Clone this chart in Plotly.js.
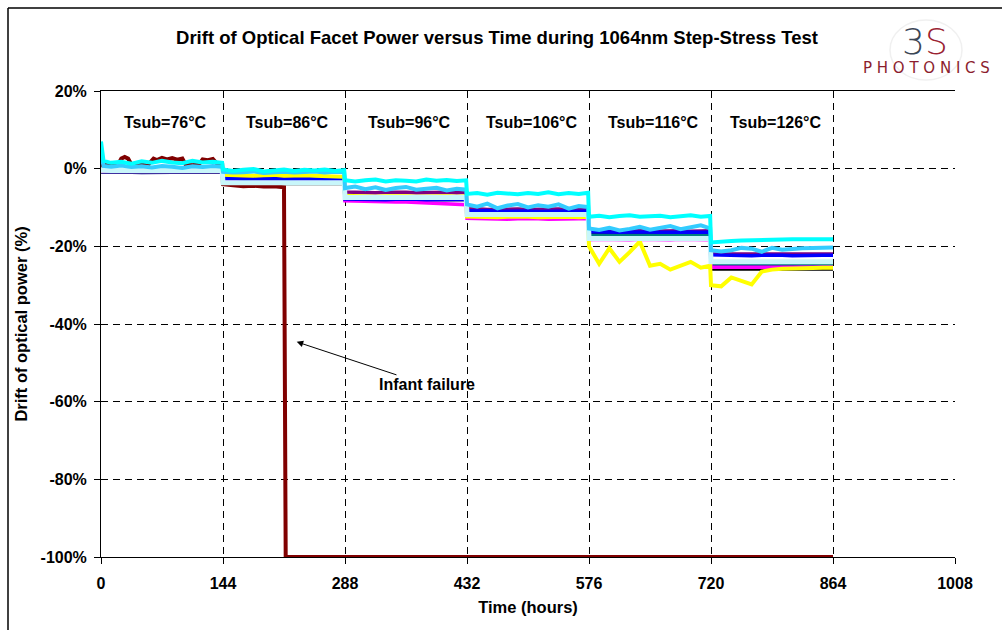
<!DOCTYPE html>
<html>
<head>
<meta charset="utf-8">
<script src="https://cdn.plot.ly/plotly-3.0.1.min.js"></script>
<style>
  html, body { margin: 0; padding: 0; background: #fff; }
  #chart { width: 1002px; height: 630px; }
</style>
</head>
<body>
<div id="chart"></div>
<script>
// ---- data (hours, % drift) ----
const hours = [0,3,12,24,36,48,60,72,84,96,108,120,132,143,
  144,156,168,180,192,204,216,228,240,252,264,276,287,
  288,300,312,324,336,348,360,372,384,396,408,420,431,
  432,444,456,468,480,492,504,516,528,540,552,564,575,
  576,588,600,612,624,636,648,660,672,684,696,708,719,
  720,732,744,756,768,780,792,804,816,828,840,852,864];

const cyan = [7.0,2.0,1.5,1.8,1.3,1.9,1.5,2.0,1.6,1.4,2.0,1.6,1.8,1.5,
  -0.2,-0.6,-0.3,-0.1,-0.7,-0.4,-0.2,-0.6,-0.3,-0.5,-0.2,-0.6,-0.4,
  -3.0,-3.3,-3.0,-2.8,-3.3,-3.0,-3.1,-3.3,-2.8,-3.1,-2.9,-3.2,-3.0,
  -6.5,-6.3,-6.7,-6.2,-6.5,-6.6,-6.3,-6.5,-6.1,-6.6,-6.3,-6.5,-6.2,
  -12.4,-12.1,-12.5,-12.2,-12.0,-12.4,-12.2,-12.1,-12.5,-12.2,-12.0,-12.4,-12.2,
  -19.0,-18.7,-18.6,-18.5,-18.4,-18.4,-18.3,-18.3,-18.2,-18.2,-18.3,-18.2,-18.2];

const lightBlue = [4.0,0.7,0.5,0.8,0.4,0.6,0.3,0.7,0.5,0.2,0.6,0.4,0.7,0.5,
  -0.8,-1.0,-0.9,-0.7,-1.1,-0.9,-0.8,-1.0,-0.9,-0.7,-1.0,-0.8,-0.9,
  -5.0,-4.6,-5.3,-4.8,-5.5,-5.0,-4.7,-5.4,-5.1,-4.9,-5.6,-5.2,-5.4,
  -9.2,-9.8,-9.0,-10.2,-9.5,-9.1,-10.0,-9.4,-9.8,-9.2,-10.3,-9.6,-9.9,
  -15.4,-15.8,-15.2,-15.9,-15.5,-15.0,-15.7,-15.3,-14.8,-15.6,-15.2,-14.6,-15.4,
  -21.0,-21.3,-21.0,-20.4,-20.6,-21.4,-20.4,-20.9,-20.6,-20.5,-20.4,-20.4,-20.3];

const blue = [-0.4,-0.5,-0.6,-0.5,-0.4,-0.6,-0.5,-0.5,-0.4,-0.6,-0.5,-0.5,-0.6,-0.5,
  -2.6,-2.5,-2.7,-2.6,-2.5,-2.6,-2.7,-2.6,-2.5,-2.6,-2.7,-2.6,-2.6,
  -7.8,-7.9,-7.8,-7.9,-8.0,-7.9,-7.8,-7.9,-8.0,-7.9,-7.8,-7.9,-7.9,
  -10.8,-10.9,-10.8,-11.0,-10.9,-10.8,-10.9,-11.0,-10.9,-10.8,-10.9,-11.0,-10.9,
  -16.2,-16.3,-16.2,-16.4,-16.3,-16.2,-16.3,-16.4,-16.3,-16.2,-16.3,-16.4,-16.3,
  -22.2,-22.3,-22.2,-22.3,-22.4,-22.3,-22.2,-22.3,-22.4,-22.3,-22.2,-22.3,-22.3];

const navy = [-0.8,-0.9,-0.9,-0.8,-0.9,-1.0,-0.9,-0.8,-0.9,-0.9,-1.0,-0.9,-0.8,-0.9,
  -2.9,-2.9,-3.0,-2.9,-2.8,-2.9,-3.0,-2.9,-2.9,-2.8,-2.9,-3.0,-2.9,
  -8.0,-8.0,-8.1,-8.0,-8.0,-8.1,-8.0,-8.0,-8.1,-8.0,-8.0,-8.1,-8.0,
  -10.6,-10.5,-10.6,-10.7,-10.6,-10.5,-10.6,-10.7,-10.6,-10.5,-10.6,-10.7,-10.6,
  -16.6,-16.5,-16.6,-16.7,-16.6,-16.5,-16.6,-16.7,-16.6,-16.5,-16.6,-16.7,-16.6,
  -25.0,-25.1,-25.0,-25.1,-25.0,-25.1,-25.2,-25.2,-25.3,-25.3,-25.3,-25.4,-25.4];

const purple = [-0.3,-0.3,-0.2,-0.3,-0.4,-0.3,-0.2,-0.3,-0.3,-0.4,-0.3,-0.2,-0.3,-0.3,
  -2.2,-2.1,-2.3,-2.2,-2.1,-2.2,-2.3,-2.2,-2.2,-2.1,-2.3,-2.2,-2.2,
  -6.0,-6.1,-6.0,-6.2,-6.1,-6.0,-6.1,-6.2,-6.1,-6.0,-6.1,-6.2,-6.1,
  -10.4,-10.3,-10.5,-10.4,-10.3,-10.4,-10.5,-10.4,-10.3,-10.4,-10.5,-10.4,-10.4,
  -16.0,-15.9,-16.1,-16.0,-15.9,-16.0,-16.1,-16.0,-15.9,-16.0,-16.1,-16.0,-16.0,
  -22.0,-22.0,-21.9,-22.0,-22.1,-22.0,-21.9,-22.0,-22.1,-22.0,-22.0,-22.1,-22.0];

const magenta = [-0.7,-0.7,-0.6,-0.7,-0.8,-0.7,-0.6,-0.7,-0.7,-0.8,-0.7,-0.6,-0.7,-0.7,
  -3.0,-3.0,-3.1,-3.0,-2.9,-3.0,-3.1,-3.0,-3.0,-2.9,-3.0,-3.1,-3.0,
  -8.3,-8.4,-8.4,-8.5,-8.5,-8.6,-8.6,-8.7,-8.8,-8.9,-9.0,-9.2,-9.3,
  -12.8,-12.9,-12.8,-12.9,-13.0,-12.9,-12.8,-12.9,-13.0,-12.9,-12.8,-12.9,-12.9,
  -18.3,-18.2,-18.3,-18.4,-18.3,-18.2,-18.3,-18.4,-18.3,-18.2,-18.3,-18.4,-18.3,
  -25.4,-25.4,-25.5,-25.4,-25.5,-25.4,-25.5,-25.4,-25.5,-25.4,-25.5,-25.4,-25.4];

const yellow = [-0.4,-0.4,-0.5,-0.4,-0.5,-0.4,-0.5,-0.4,-0.3,0.0,0.1,-0.2,-0.4,-0.4,
  -1.6,-1.7,-1.6,-1.8,-1.7,-1.6,-1.8,-1.7,-1.7,-1.8,-1.9,-2.0,-2.1,
  -7.0,-7.1,-7.0,-7.2,-7.1,-7.0,-7.1,-7.2,-7.1,-7.0,-7.1,-7.2,-7.1,
  -12.3,-12.4,-12.3,-12.5,-12.4,-12.3,-12.4,-12.5,-12.4,-12.3,-12.4,-12.5,-12.4,
  -20.0,-24.5,-20.5,-24.0,-21.5,-18.8,-25.0,-24.5,-26.0,-25.0,-24.0,-25.5,-25.0,
  -30.0,-30.3,-28.0,-28.8,-29.8,-26.5,-26.0,-25.8,-25.8,-25.7,-25.6,-25.5,-25.5];

const teal = [-0.8,-0.8,-0.7,-0.8,-0.9,-0.8,-0.7,-0.8,-0.8,-0.9,-0.8,-0.7,-0.8,-0.8,
  -3.4,-3.4,-3.5,-3.4,-3.3,-3.4,-3.5,-3.4,-3.4,-3.3,-3.4,-3.5,-3.4,
  -7.6,-7.6,-7.7,-7.6,-7.5,-7.6,-7.7,-7.6,-7.6,-7.5,-7.6,-7.7,-7.6,
  -11.3,-11.3,-11.4,-11.3,-11.2,-11.3,-11.4,-11.3,-11.3,-11.2,-11.3,-11.4,-11.3,
  -17.2,-17.2,-17.3,-17.2,-17.1,-17.2,-17.3,-17.2,-17.2,-17.1,-17.2,-17.3,-17.2,
  -24.5,-24.5,-24.6,-24.5,-24.4,-24.5,-24.6,-24.5,-24.5,-24.4,-24.5,-24.6,-24.5];

const paleCyan = [-0.4,-0.5,-0.5,-0.4,-0.5,-0.6,-0.5,-0.4,-0.5,-0.5,-0.6,-0.5,-0.4,-0.5,
  -3.6,-3.6,-3.7,-3.6,-3.5,-3.6,-3.7,-3.6,-3.6,-3.5,-3.6,-3.7,-3.6,
  -7.4,-7.4,-7.5,-7.4,-7.3,-7.4,-7.5,-7.4,-7.4,-7.3,-7.4,-7.5,-7.4,
  -11.8,-11.8,-11.9,-11.8,-11.7,-11.8,-11.9,-11.8,-11.8,-11.7,-11.8,-11.9,-11.8,
  -18.0,-18.0,-18.1,-18.0,-17.9,-18.0,-18.1,-18.0,-18.0,-17.9,-18.0,-18.1,-18.0,
  -24.0,-24.0,-24.1,-24.0,-23.9,-24.0,-24.1,-24.0,-24.0,-23.9,-24.0,-24.1,-24.0];

const black = [-0.9,-0.9,-1.0,-0.9,-0.9,-1.0,-0.9,-0.9,-1.0,-0.9,-0.9,-1.0,-0.9,-0.9,
  -3.9,-3.9,-4.0,-3.9,-3.9,-4.0,-3.9,-3.9,-4.0,-3.9,-3.9,-4.0,-3.9,
  -7.9,-7.9,-8.0,-7.9,-7.9,-8.0,-7.9,-7.9,-8.0,-7.9,-7.9,-8.0,-7.9,
  -12.0,-12.0,-12.1,-12.0,-12.0,-12.1,-12.0,-12.0,-12.1,-12.0,-12.0,-12.1,-12.0,
  -17.6,-17.6,-17.7,-17.6,-17.6,-17.7,-17.6,-17.6,-17.7,-17.6,-17.6,-17.7,-17.6,
  -25.9,-25.9,-26.0,-25.9,-25.9,-26.0,-25.9,-25.9,-26.0,-25.9,-25.9,-26.0,-25.9];

// infant-failure device
const redHours = [0,6,12,20,24,28,32,36,44,56,62,66,72,78,84,90,96,100,108,116,120,126,132,138,143,144,156,168,180,192,204,212,216,218,864];
const redDrift = [0.8,1.0,0.9,1.0,2.6,3.0,2.6,1.0,1.0,1.1,2.6,2.2,2.8,2.4,2.7,2.3,2.6,1.0,0.9,1.2,2.4,2.2,2.5,1.0,1.0,-4.0,-4.3,-4.5,-4.4,-4.6,-4.5,-4.6,-4.8,-100,-100];

const stageCentres = [76, 220, 364, 508, 652, 796];
const stageLabels = ['Tsub=76°C','Tsub=86°C','Tsub=96°C','Tsub=106°C','Tsub=116°C','Tsub=126°C'];
const xTicks = [0,144,288,432,576,720,864,1008];
const yTicks = [-100,-80,-60,-40,-20,0,20];
const yTickText = ['-100%','-80%','-60%','-40%','-20%','0%','20%'];

// ---- traces ----
const FONT = 'Arial, "Liberation Sans", sans-serif';
function line(x, y, color, width) {
  return { x: x, y: y, type: 'scatter', mode: 'lines', hoverinfo: 'skip',
           line: { color: color, width: width }, showlegend: false };
}
const traces = [
  line(hours, black, '#000000', 3),
  line(hours, navy, '#000080', 3.5),
  line(hours, teal, '#008080', 3.5),
  line(hours, magenta, '#FF00FF', 3.5),
  line(hours, purple, '#800080', 3.5),
  line(hours, blue, '#0000FF', 3.5),
  line(hours, yellow, '#FFFF00', 4),
  line(redHours, redDrift, '#800000', 4),
  line(hours, paleCyan, '#C8F6FA', 5),
  line(hours, lightBlue, '#33CCFF', 4),
  line(hours, cyan, '#00FFFF', 4)
];

const annotations = stageLabels.map((t, i) => ({
  x: stageCentres[i], y: 12, xref: 'x', yref: 'y', text: t, showarrow: false,
  xanchor: 'center', yanchor: 'middle',
  font: { family: FONT, size: 16, color: '#000', weight: 'bold' }
}));
annotations.push({
  x: 231, y: -44.6, xref: 'x', yref: 'y', text: 'Infant failure',
  showarrow: true, ax: 130, ay: 43, arrowhead: 2, arrowsize: 1.3, arrowwidth: 1,
  arrowcolor: '#000', standoff: 0, xanchor: 'center', yanchor: 'middle',
  font: { family: FONT, size: 16, color: '#000', weight: 'bold' }
});
// logo
annotations.push({
  x: (925 - 101) / 854, y: (557 - 41) / 466, xref: 'paper', yref: 'paper',
  xanchor: 'center', yanchor: 'middle',
  text: '<span style="color:#3b4656">3</span><span style="color:#9a2332">S</span>',
  showarrow: false, font: { family: '"DejaVu Sans", sans-serif', size: 36, weight: 300 }
});
annotations.push({
  x: (926 - 101) / 854, y: (557 - 68) / 466, xref: 'paper', yref: 'paper',
  xanchor: 'center', yanchor: 'middle',
  text: 'P H O T O N I C S',
  showarrow: false, font: { family: '"DejaVu Sans", sans-serif', size: 15, color: '#8c1d2e' }
});

const px = v => (v - 101) / 854;
const py = v => (557 - v) / 466;

const layout = {
  width: 1002, height: 630,
  margin: { l: 101, r: 47, t: 91, b: 73 },
  paper_bgcolor: '#fff', plot_bgcolor: '#fff',
  showlegend: false,
  title: {
    text: 'Drift of Optical Facet Power versus Time during 1064nm Step-Stress Test',
    x: px(497), xref: 'paper', xanchor: 'center',
    y: 1 - 38 / 630, yref: 'container', yanchor: 'middle',
    font: { family: FONT, size: 18.5, color: '#000', weight: 'bold' }
  },
  xaxis: {
    range: [0, 1008], tickvals: xTicks, ticktext: xTicks.map(String),
    ticks: 'outside', ticklen: 6, tickcolor: '#000', ticklabelstandoff: 6,
    showline: true, linecolor: '#000', linewidth: 1, mirror: true,
    showgrid: true, gridcolor: '#000', gridwidth: 1, griddash: '7px,5px',
    zeroline: false,
    tickfont: { family: FONT, size: 16, color: '#000', weight: 'bold' },
    title: { text: 'Time (hours)', standoff: 10,
             font: { family: FONT, size: 16.5, color: '#000', weight: 'bold' } }
  },
  yaxis: {
    range: [-100, 20], tickvals: yTicks, ticktext: yTickText,
    ticks: 'outside', ticklen: 6, tickcolor: '#000', ticklabelstandoff: 4,
    showline: true, linecolor: '#000', linewidth: 1, mirror: false,
    showgrid: true, gridcolor: '#000', gridwidth: 1, griddash: '7px,5px',
    zeroline: false,
    tickfont: { family: FONT, size: 16, color: '#000', weight: 'bold' },
    title: { text: 'Drift of optical power (%)', standoff: 8,
             font: { family: FONT, size: 16.5, color: '#000', weight: 'bold' } }
  },
  annotations: annotations,
  shapes: [
    { type: 'line', xref: 'paper', yref: 'paper', x0: px(8), x1: px(8), y0: py(8), y1: py(640),
      line: { color: '#000', width: 1.5 } },
    { type: 'line', xref: 'paper', yref: 'paper', x0: px(8), x1: px(1010), y0: py(8), y1: py(8),
      line: { color: '#000', width: 1.5 } },
    { type: 'circle', xref: 'paper', yref: 'paper', x0: px(890), x1: px(962), y0: py(20), y1: py(80),
      line: { color: '#f0f0f0', width: 1.5 }, layer: 'below' }
  ]
};

Plotly.newPlot('chart', traces, layout, { displayModeBar: false, staticPlot: true });
</script>
</body>
</html>
